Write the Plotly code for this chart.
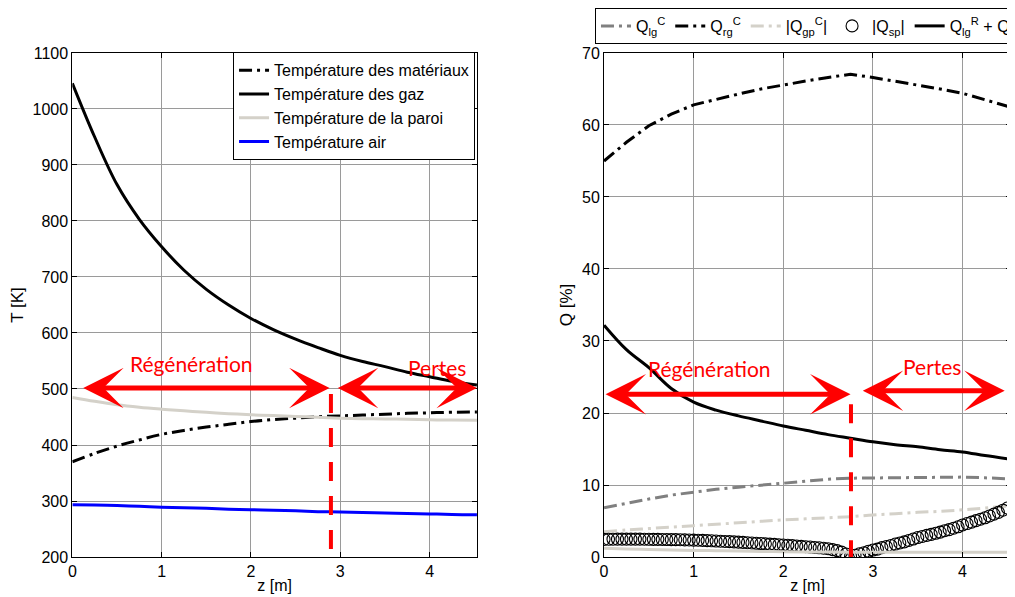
import plotly.graph_objects as go

# ---------------- data ----------------
Z = [0, 0.25, 0.5, 0.75, 1.0, 1.25, 1.5, 1.75, 2.0, 2.25, 2.5, 2.75,
     3.0, 3.25, 3.5, 3.75, 4.0, 4.25, 4.53]

T_materiaux = [370, 385, 398, 409, 419, 426, 432, 437, 442, 445.5, 448, 450.5,
               452, 453.5, 455, 456.5, 457.5, 458.5, 459]
T_gaz = [1046, 950, 865, 803, 754, 712, 678, 650, 626, 606, 589, 574,
         560, 549, 540, 530, 522, 514, 507]
T_paroi = [485, 478, 472, 467.5, 464, 461, 458.5, 456, 454, 452.5, 451, 449.5,
           448, 447, 446.5, 446, 445, 444.5, 444]
T_air = [293.5, 293, 292, 290.5, 289, 288, 287, 285.5, 284.5, 283.5, 282.5, 281,
         280.3, 279.5, 278.5, 277.5, 277, 276, 275.5]

Q_lgC = [6.85, 7.5, 8.05, 8.6, 9.05, 9.4, 9.7, 10.0, 10.3, 10.55, 10.8, 10.95,
         11.0, 11.02, 11.05, 11.07, 11.1, 11.0, 10.85]
Q_rgC = [55.0, 57.6, 59.9, 61.5, 62.8, 63.6, 64.3, 65.0, 65.6, 66.1, 66.6, 67.05,
         66.6, 66.1, 65.6, 65.0, 64.4, 63.5, 62.5]
Q_gpC = [3.5, 3.75, 3.95, 4.15, 4.35, 4.55, 4.75, 4.95, 5.15, 5.3, 5.45, 5.6,
         5.85, 6.0, 6.2, 6.35, 6.55, 6.8, 7.1]
Q_R = [32.2, 28.8, 26.3, 23.4, 21.5, 20.4, 19.6, 18.9, 18.2, 17.6, 17.0, 16.5,
       16.0, 15.6, 15.3, 14.9, 14.6, 14.1, 13.6]
Q_gpR = [1.2, 1.12, 1.05, 0.98, 0.92, 0.87, 0.82, 0.78, 0.74, 0.71, 0.69, 0.67,
         0.66, 0.66, 0.65, 0.65, 0.65, 0.65, 0.65]

Z_sp = [round(0.05 * i, 2) for i in range(91)]
Q_sp = [2.45, 2.46, 2.47, 2.48, 2.48, 2.48, 2.48, 2.48, 2.48, 2.47,
        2.46, 2.45, 2.45, 2.44, 2.43, 2.42, 2.41, 2.40, 2.38, 2.37,
        2.35, 2.33, 2.31, 2.28, 2.25, 2.22, 2.19, 2.16, 2.13, 2.10,
        2.07, 2.03, 1.99, 1.95, 1.91, 1.87, 1.83, 1.79, 1.75, 1.71,
        1.67, 1.63, 1.58, 1.53, 1.48, 1.43, 1.38, 1.33, 1.28, 1.22,
        1.15, 1.03, 0.88, 0.68, 0.42, 0.08,
        0.25, 0.45, 0.6, 0.8, 0.97, 1.1, 1.3, 1.45, 1.6, 1.8,
        1.95, 2.1, 2.3, 2.5, 2.7, 2.85, 3.0, 3.15, 3.3, 3.45,
        3.65, 3.8, 4.0, 4.2, 4.45, 4.65, 4.85, 5.05, 5.25, 5.45,
        5.7, 5.95, 6.2, 6.5, 6.8]

# annotation data (zone limits)
left_arrows = [(0.105, 2.88, 502), (2.955, 4.53, 502)]
right_arrows = [(0.0, 2.75, 22.6), (2.87, 4.47, 23.1)]
left_labels = [("Régénération", 1.333, 545), ("Pertes", 4.08, 538)]
right_labels = [("Régénération", 1.18, 26.2), ("Pertes", 3.66, 26.4)]
left_split = (2.895, 491, 210)
right_split = (2.755, 21.2, 0)

# ---------------- styles ----------------
FONT = "Arial, Liberation Sans, sans-serif"
LIGHT = "#d4d1c9"
DASHDOT = "13px,5px,3px,5px"

fig = go.Figure()

# Left panel
fig.add_trace(go.Scatter(x=Z, y=T_materiaux, mode="lines", name="Température des matériaux",
                         line=dict(color="black", width=3, dash=DASHDOT, shape="spline"),
                         xaxis="x", yaxis="y", legend="legend"))
fig.add_trace(go.Scatter(x=Z, y=T_gaz, mode="lines", name="Température des gaz",
                         line=dict(color="black", width=3, shape="spline"),
                         xaxis="x", yaxis="y", legend="legend"))
fig.add_trace(go.Scatter(x=Z, y=T_paroi, mode="lines", name="Température de la paroi",
                         line=dict(color=LIGHT, width=3, shape="spline"),
                         xaxis="x", yaxis="y", legend="legend"))
fig.add_trace(go.Scatter(x=Z, y=T_air, mode="lines", name="Température air",
                         line=dict(color="#0000ff", width=3, shape="spline"),
                         xaxis="x", yaxis="y", legend="legend"))

# Right panel
fig.add_trace(go.Scatter(x=Z, y=Q_lgC, mode="lines", name="Q<sub>lg</sub><sup>C</sup>",
                         line=dict(color="#808080", width=3, dash=DASHDOT),
                         xaxis="x2", yaxis="y2", legend="legend2"))
fig.add_trace(go.Scatter(x=Z, y=Q_rgC, mode="lines", name="Q<sub>rg</sub><sup>C</sup>",
                         line=dict(color="black", width=3, dash=DASHDOT),
                         xaxis="x2", yaxis="y2", legend="legend2"))
fig.add_trace(go.Scatter(x=Z, y=Q_gpC, mode="lines", name="|Q<sub>gp</sub><sup>C</sup>|",
                         line=dict(color=LIGHT, width=3, dash=DASHDOT, shape="spline"),
                         xaxis="x2", yaxis="y2", legend="legend2"))
fig.add_trace(go.Scatter(x=Z_sp, y=Q_sp, mode="markers", name="|Q<sub>sp</sub>|",
                         marker=dict(symbol="circle-open", size=12, color="black",
                                     line=dict(width=1.1, color="black")),
                         xaxis="x2", yaxis="y2", legend="legend2"))
fig.add_trace(go.Scatter(x=Z, y=Q_R, mode="lines",
                         name="Q<sub>lg</sub><sup>R</sup> + Q<sub>rg</sub><sup>R</sup>",
                         line=dict(color="black", width=3, shape="spline"),
                         xaxis="x2", yaxis="y2", legend="legend2"))
fig.add_trace(go.Scatter(x=Z, y=Q_gpR, mode="lines", name="|Q<sub>gp</sub><sup>R</sup>|",
                         line=dict(color=LIGHT, width=3, shape="spline"),
                         xaxis="x2", yaxis="y2", legend="legend2"))

# ---------------- annotations ----------------
annotations = []
shapes = []


def add_arrows(xa, ya, arrows):
    for x0, x1, yv in arrows:
        annotations.append(dict(
            x=x1, y=yv, ax=x0, ay=yv, xref=xa, yref=ya, axref=xa, ayref=ya,
            text="", showarrow=True, arrowhead=3, startarrowhead=3,
            arrowside="end+start", arrowsize=1.35, startarrowsize=1.35,
            arrowwidth=5, arrowcolor="#ff0000", standoff=0, startstandoff=0))


def add_labels(xa, ya, labels):
    for txt, xv, yv in labels:
        annotations.append(dict(
            x=xv, y=yv, xref=xa, yref=ya, text=txt, showarrow=False,
            font=dict(family="Lato, Open Sans, sans-serif", size=21, color="#ff0000"),
            xanchor="center", yanchor="middle"))


add_arrows("x", "y", left_arrows)
add_arrows("x2", "y2", right_arrows)
add_labels("x", "y", left_labels)
add_labels("x2", "y2", right_labels)

for xa, ya, (xv, y0, y1) in (("x", "y", left_split), ("x2", "y2", right_split)):
    shapes.append(dict(type="line", xref=xa, yref=ya, x0=xv, x1=xv, y0=y0, y1=y1,
                       line=dict(color="#ff0000", width=4, dash="19px,15px")))

# ---------------- layout ----------------
# (the page adds an 8px body margin, so the figure is 8px smaller than the window)
axis_common = dict(
    showline=True, linecolor="black", linewidth=1, mirror="ticks",
    ticks="inside", ticklen=5, tickcolor="black",
    showgrid=True, gridcolor="#9a9a9a", gridwidth=1, zeroline=False,
    tickfont=dict(family=FONT, size=16, color="black"),
)
YDOM = [0.0679, 0.9236]

fig.update_layout(
    width=1007, height=589,
    margin=dict(l=0, r=0, t=0, b=0, autoexpand=False),
    paper_bgcolor="white", plot_bgcolor="white",
    font=dict(family=FONT, size=16, color="black"),
    xaxis=dict(axis_common, domain=[0.0639, 0.4657], range=[0, 4.53],
               tickvals=[0, 1, 2, 3, 4], anchor="y",
               title=dict(text="z [m]", font=dict(size=16), standoff=0)),
    yaxis=dict(axis_common, domain=YDOM, range=[200, 1100], dtick=100, anchor="x",
               title=dict(text="T [K]", font=dict(size=17), standoff=5)),
    xaxis2=dict(axis_common, domain=[0.5919, 0.9960], range=[0, 4.54],
                tickvals=[0, 1, 2, 3, 4], anchor="y2",
                title=dict(text="z [m]", font=dict(size=16), standoff=0)),
    yaxis2=dict(axis_common, domain=YDOM, range=[0, 70], dtick=10, anchor="x2",
                title=dict(text="Q [%]", font=dict(size=17), standoff=5)),
    legend=dict(x=0.4638, xanchor="right", y=0.9248, yanchor="top",
                bgcolor="white", bordercolor="black", borderwidth=1,
                font=dict(family=FONT, size=16, color="black"),
                itemwidth=30, tracegroupgap=0),
    legend2=dict(orientation="h", x=0.5829, xanchor="left", y=1.0, yanchor="top",
                 bgcolor="white", bordercolor="black", borderwidth=1,
                 font=dict(family=FONT, size=16, color="black"),
                 itemwidth=30),
    annotations=annotations,
    shapes=shapes,
    showlegend=True,
)

fig.write_html("out.html")
